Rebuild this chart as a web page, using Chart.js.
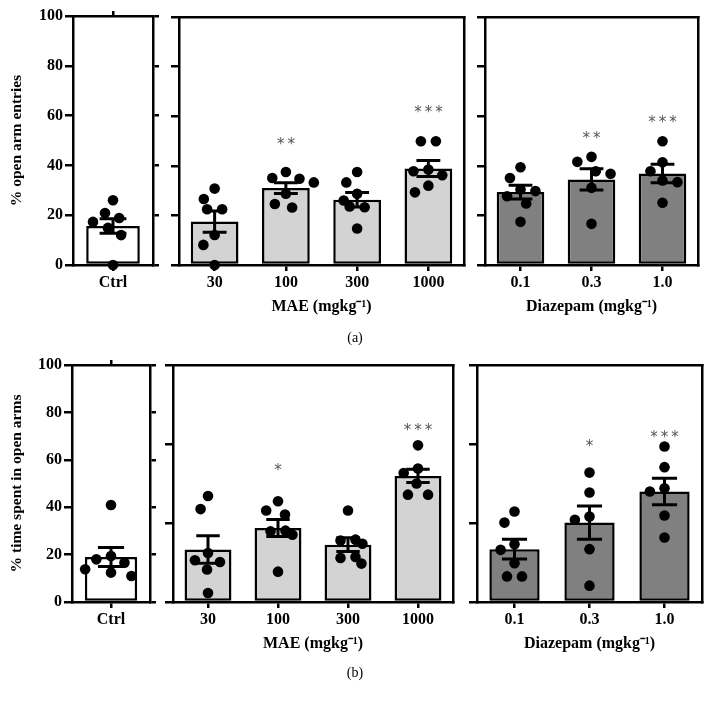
<!DOCTYPE html>
<html>
<head>
<meta charset="utf-8">
<script src="https://cdn.jsdelivr.net/npm/chart.js@4.4.1/dist/chart.umd.min.js"></script>
<style>
html,body{margin:0;padding:0;background:#fff;}
#wrap{position:relative;width:717px;height:707px;overflow:hidden;background:#fff;}
#wrap canvas{position:absolute;left:0;top:0;}
.plabel{position:absolute;font-family:'Liberation Serif','Times New Roman',serif;font-size:14px;color:#000;transform:translate(-50%,-50%);white-space:nowrap;}
</style>
</head>
<body>
<div id="wrap">
<canvas id="aCtrl" width="717" height="707"></canvas>
<canvas id="aMae" width="717" height="707"></canvas>
<canvas id="aDiaz" width="717" height="707"></canvas>
<canvas id="bCtrl" width="717" height="707"></canvas>
<canvas id="bMae" width="717" height="707"></canvas>
<canvas id="bDiaz" width="717" height="707"></canvas>
<div class="plabel" style="left:355px;top:338px">(a)</div>
<div class="plabel" style="left:355px;top:673px">(b)</div>
</div>
<script>
// ---------------- DATA ----------------
const ctrlLabels = ['Ctrl'];
const maeLabels = ['30', '100', '300', '1000'];
const diazLabels = ['0.1', '0.3', '1.0'];
const ticks20 = [0, 20, 40, 60, 80, 100];
const ticksThird = [0, 100 / 3, 200 / 3, 100];

const yTitleA = '% open arm entries';
const yTitleB = '% time spent in open arms';
const maeTitle = 'MAE (mgkg⁻¹)';
const diazTitle = 'Diazepam (mgkg⁻¹)';

// (a) % open arm entries
const aCtrlMean = [15.7];
const aCtrlSem = [2.9];
const aCtrlDots = [[26.0, 20.9, 18.9, 17.3, 14.9, 12.0, 0.0]];

const aMaeMean = [17.5, 31.0, 26.3, 38.9];
const aMaeSem = [4.3, 2.2, 2.9, 3.2];
const aMaeDots = [
  [30.8, 26.6, 22.5, 22.5, 12.1, 8.1, 0.0],
  [37.5, 35.1, 34.8, 33.3, 28.7, 24.6, 23.2],
  [37.5, 33.3, 28.7, 26.0, 23.6, 23.3, 14.7],
  [49.9, 49.9, 38.5, 37.8, 36.2, 32.0, 29.3]
];
const aMaeSig = ['', '**', '', '***'];
const aMaeSigY = [null, 50, null, 63];

const aDiazMean = [29.4, 34.5, 36.9];
const aDiazSem = [2.8, 4.3, 3.7];
const aDiazDots = [
  [39.4, 35.1, 30.4, 29.8, 27.7, 24.8, 17.4],
  [43.6, 41.6, 37.8, 36.8, 31.1, 16.6],
  [49.9, 41.4, 37.8, 34.1, 33.4, 25.1]
];
const aDiazSig = ['', '**', '***'];
const aDiazSigY = [null, 52.6, 59];

// (b) % time spent in open arms
const bCtrlMean = [19.0];
const bCtrlSem = [4.0];
const bCtrlDots = [[40.9, 19.4, 18.0, 16.6, 13.8, 12.4, 11.0]];

const bMaeMean = [22.2, 31.2, 24.2, 53.2];
const bMaeSem = [5.8, 3.6, 2.9, 2.8];
const bMaeDots = [
  [44.7, 39.2, 20.7, 17.6, 16.9, 13.7, 3.8],
  [42.5, 38.6, 36.9, 30.1, 29.8, 28.4, 12.8],
  [38.6, 26.3, 25.9, 24.6, 19.0, 18.6, 16.2],
  [66.1, 56.3, 54.4, 50.0, 45.3, 45.3]
];
const bMaeSig = ['', '*', '', '***'];
const bMaeSigY = [null, 57, null, 74];

const bDiazMean = [22.3, 33.5, 46.6];
const bDiazSem = [4.2, 7.0, 5.6];
const bDiazDots = [
  [38.2, 33.5, 24.4, 22.0, 16.4, 10.8, 10.8],
  [54.6, 46.2, 36.1, 34.7, 22.3, 6.9],
  [65.6, 56.9, 48.0, 46.6, 36.5, 27.2]
];
const bDiazSig = ['', '*', '***'];
const bDiazSigY = [null, 67, 70.8];

// ---------------- STYLE / LAYOUT ----------------
const SERIF = "'Liberation Serif','Times New Roman',serif";
const W = 717, H = 707;
const LW = 2.5;
const DOT_SPACING = 15;
const XH = 51;

// beeswarm: computes horizontal offsets (px) so dots do not overlap
function swarm(values, pxPerUnit, d) {
  const order = values.map((v, i) => i).sort((a, b) => values[b] - values[a]);
  const placed = [];
  const xs = new Array(values.length).fill(0);
  for (const i of order) {
    const y = values[i] * pxPerUnit;
    const forb = [];
    for (const p of placed) {
      const dy = Math.abs(p.y - y);
      if (dy < d) {
        const w = Math.sqrt(d * d - dy * dy);
        forb.push([p.x - w, p.x + w]);
      }
    }
    let cands = [0];
    forb.forEach(f => cands.push(f[0], f[1]));
    cands = cands.filter(c => forb.every(f => c <= f[0] + 1e-6 || c >= f[1] - 1e-6));
    cands.sort((a, b) => Math.abs(a) - Math.abs(b) || a - b);
    xs[i] = cands[0];
    placed.push({x: cands[0], y});
  }
  // centre rows of equal values symmetrically
  const seen = new Set();
  values.forEach((v, i) => {
    if (seen.has(i)) return;
    const same = values.map((w, j) => j).filter(j => Math.abs(values[j] - v) * pxPerUnit < 1);
    same.forEach(j => seen.add(j));
    if (same.length > 1) {
      const mean = same.reduce((s, j) => s + xs[j], 0) / same.length;
      same.forEach(j => { xs[j] -= mean; });
    }
  });
  return xs;
}

const errPlugin = {
  id: 'errbars',
  afterDatasetsDraw(chart) {
    const ds = chart.data.datasets[1];
    const meta = chart.getDatasetMeta(1);
    const y = chart.scales.y;
    const ctx = chart.ctx;
    ctx.save();
    ctx.strokeStyle = '#000';
    ctx.lineWidth = LW + 0.5;
    ctx.lineCap = 'butt';
    meta.data.forEach((bar, i) => {
      const m = ds.data[i], s = ds.sem[i];
      const x = bar.x, half = bar.width * 0.25;
      const yt = y.getPixelForValue(m + s), yb = y.getPixelForValue(m - s);
      ctx.beginPath();
      ctx.moveTo(x, yt); ctx.lineTo(x, yb);
      ctx.moveTo(x - half, yt); ctx.lineTo(x + half, yt);
      ctx.moveTo(x - half, yb); ctx.lineTo(x + half, yb);
      ctx.stroke();
    });
    ctx.restore();
  }
};

const starPlugin = {
  id: 'stars',
  afterDraw(chart) {
    const ds = chart.data.datasets[1];
    if (!ds.sig) return;
    const xS = chart.scales.x, yS = chart.scales.y, ctx = chart.ctx;
    ctx.save();
    ctx.fillStyle = '#555';
    ctx.font = "15px 'DejaVu Sans', sans-serif";
    ctx.textAlign = 'center';
    ctx.textBaseline = 'alphabetic';
    ds.sig.forEach((s, i) => {
      if (!s) return;
      const cx = xS.getPixelForValue(i);
      const cy = yS.getPixelForValue(ds.sigY[i]) + 8;
      const m = s.length;
      for (let k = 0; k < m; k++) {
        ctx.fillText('*', cx + (k - (m - 1) / 2) * 10.5, cy);
      }
    });
    ctx.restore();
  }
};

function panel(id, o) {
  const [L, T, R, B] = o.area;
  const n = o.labels.length;
  const catW = (R - L) / n;
  const pxPerUnit = (B - T) / 100;
  const points = [];
  o.dots.forEach((vals, i) => {
    const off = swarm(vals, pxPerUnit, DOT_SPACING);
    vals.forEach((v, k) => points.push({x: i + off[k] / catW, y: v}));
  });
  const padLeft = o.yTitle ? 8 : L - 10;
  const YW = L - padLeft;
  const tickFont = {family: SERIF, size: 16, weight: 'bold'};
  const titleFont = {family: SERIF, size: 16, weight: 'bold'};
  const axisTicks = (s) => { s.ticks = o.yTicks.map(v => ({value: v})); };
  new Chart(document.getElementById(id), {
    type: 'bar',
    data: {
      labels: o.labels,
      datasets: [
        {type: 'scatter', data: points, xAxisID: 'xs', yAxisID: 'y',
         backgroundColor: '#000', borderColor: '#000', pointRadius: 5.3, pointBorderWidth: 0,
         pointHoverRadius: 5.3, order: 0, clip: false},
        {type: 'bar', data: o.means, sem: o.sems, sig: o.sig, sigY: o.sigY,
         xAxisID: 'x', yAxisID: 'y', backgroundColor: o.color, borderColor: '#000',
         borderWidth: LW, borderSkipped: false, grouped: false,
         barPercentage: 0.67, categoryPercentage: 1, order: 1}
      ]
    },
    options: {
      responsive: false, animation: false, devicePixelRatio: 1,
      events: [],
      layout: {padding: {left: padLeft, top: T, right: W - R, bottom: H - B - XH}},
      plugins: {legend: {display: false}, tooltip: {enabled: false}},
      scales: {
        x: {
          type: 'category', position: 'bottom', offset: true,
          grid: {display: true, drawOnChartArea: false, offset: false, tickLength: 6, lineWidth: LW, color: '#000'},
          border: {display: true, color: '#000', width: LW},
          ticks: {color: '#000', font: tickFont, padding: 2, maxRotation: 0, autoSkip: false},
          title: {display: !!o.xTitle, text: o.xTitle || '', color: '#000', font: titleFont, padding: 0},
          afterFit(s) { s.height = XH; }
        },
        xs: {type: 'linear', display: false, offset: false, grid: {offset: false}, bounds: 'data',
             min: -0.5, max: n - 0.5},
        xTop: {
          type: 'category', labels: o.labels, position: 'top', offset: true,
          grid: {display: !!o.mirror, drawOnChartArea: false, offset: false, tickLength: 5, lineWidth: LW, color: '#000'},
          border: {display: true, color: '#000', width: LW},
          ticks: {display: false},
          afterFit(s) { s.height = 0; }
        },
        y: {
          type: 'linear', position: 'left', min: 0, max: 100,
          afterBuildTicks: axisTicks,
          grid: {drawOnChartArea: false, tickLength: 8, lineWidth: LW, color: '#000'},
          border: {display: true, color: '#000', width: LW},
          ticks: {display: !!o.yLabels, color: '#000', font: tickFont, padding: 2},
          title: {display: !!o.yTitle, text: o.yTitle || '', color: '#000', font: {family: SERIF, size: 15.5, weight: 'bold'}, padding: 0},
          afterFit(s) { s.width = YW; }
        },
        yR: {
          type: 'linear', position: 'right', min: 0, max: 100,
          afterBuildTicks: axisTicks,
          grid: {display: !!o.mirror, drawOnChartArea: false, tickLength: 6, lineWidth: LW, color: '#000'},
          border: {display: true, color: '#000', width: LW},
          ticks: {display: false},
          afterFit(s) { s.width = 0; }
        }
      }
    },
    plugins: [errPlugin, starPlugin]
  });
}

const WHITE = '#ffffff', LIGHT = '#d3d3d3', DARK = '#808080';

panel('aCtrl', {labels: ctrlLabels, means: aCtrlMean, sems: aCtrlSem, dots: aCtrlDots, color: WHITE,
  area: [73, 16, 153, 265], yTicks: ticks20, yLabels: true, yTitle: yTitleA, mirror: true});
panel('aMae', {labels: maeLabels, means: aMaeMean, sems: aMaeSem, dots: aMaeDots, color: LIGHT,
  area: [179, 17, 464, 265], yTicks: ticks20, xTitle: maeTitle, sig: aMaeSig, sigY: aMaeSigY});
panel('aDiaz', {labels: diazLabels, means: aDiazMean, sems: aDiazSem, dots: aDiazDots, color: DARK,
  area: [485, 17, 698, 265], yTicks: ticks20, xTitle: diazTitle, sig: aDiazSig, sigY: aDiazSigY});

panel('bCtrl', {labels: ctrlLabels, means: bCtrlMean, sems: bCtrlSem, dots: bCtrlDots, color: WHITE,
  area: [72, 365, 150, 602], yTicks: ticks20, yLabels: true, yTitle: yTitleB, mirror: true});
panel('bMae', {labels: maeLabels, means: bMaeMean, sems: bMaeSem, dots: bMaeDots, color: LIGHT,
  area: [173, 365, 453, 602], yTicks: ticksThird, xTitle: maeTitle, sig: bMaeSig, sigY: bMaeSigY});
panel('bDiaz', {labels: diazLabels, means: bDiazMean, sems: bDiazSem, dots: bDiazDots, color: DARK,
  area: [477, 365, 702, 602], yTicks: ticksThird, xTitle: diazTitle, sig: bDiazSig, sigY: bDiazSigY});
</script>
</body>
</html>
